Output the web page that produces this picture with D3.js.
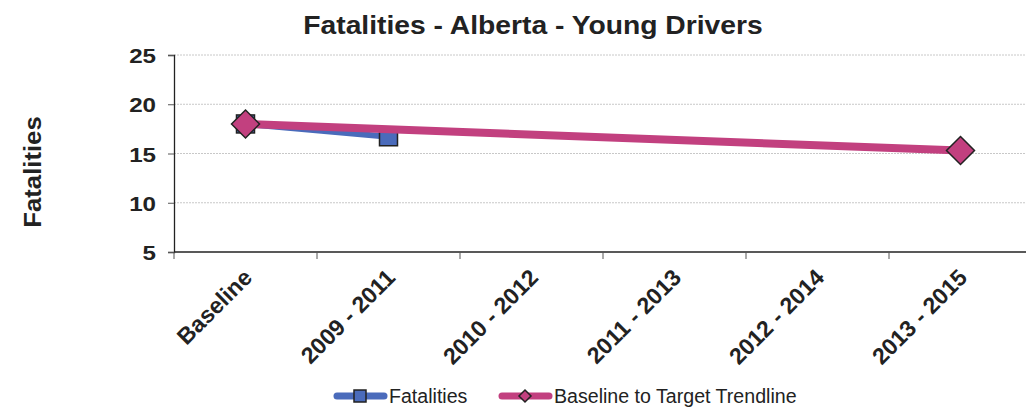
<!DOCTYPE html>
<html lang="en">
<head>
<meta charset="UTF-8">
<title>Fatalities - Alberta - Young Drivers</title>
<style>
body { margin: 0; background: #fff; }
text { font-family: Arial, "Liberation Sans", sans-serif; fill: #222; }
.grid line { stroke: #c8c8c8; stroke-dasharray: 2,1; }
</style>
</head>
<body>
<script src="https://cdn.jsdelivr.net/npm/d3@7"></script>
<script>
var categories = ["Baseline", "2009 - 2011", "2010 - 2012", "2011 - 2013", "2012 - 2014", "2013 - 2015"];
var fatalities = [{ cat: "Baseline", value: 18 }, { cat: "2009 - 2011", value: 16.7 }];
var trendline = [{ cat: "Baseline", value: 18 }, { cat: "2013 - 2015", value: 15.3 }];
var yTicks = [5, 10, 15, 20, 25];

var W = 1026, H = 408;
var margin = { top: 55, left: 174 };
var plotW = 858, plotH = 197;

// the reference text is a little wider than Arial, stretch it
function stretch(sel, k) {
    sel.each(function() {
        var len = this.getComputedTextLength();
        d3.select(this).attr("textLength", len * k).attr("lengthAdjust", "spacingAndGlyphs");
    });
}

var svg = d3.select("body").append("svg").attr("width", W).attr("height", H);

var x = d3.scaleBand().domain(categories).range([0, plotW]);
var y = d3.scaleLinear().domain([5, 25]).range([plotH, 0]);

var g = svg.append("g").attr("transform", "translate(" + margin.left + "," + margin.top + ")");

// gridlines
g.append("g").attr("class", "grid")
    .selectAll("line").data(yTicks.slice(1)).enter().append("line")
    .attr("x1", 0).attr("x2", plotW)
    .attr("y1", function(d) { return y(d); }).attr("y2", function(d) { return y(d); });

// y axis
var yAxis = g.append("g").call(d3.axisLeft(y).tickValues(yTicks).tickSize(6).tickPadding(12));
yAxis.select(".domain").attr("stroke", "#222").attr("stroke-width", 1.3);
yAxis.selectAll("line").attr("stroke", "#555");
yAxis.selectAll("text").style("font-size", "21px").style("font-weight", "bold").attr("dy", "0.36em").call(stretch, 1.15);

// x axis: ticks at category boundaries
var xg = g.append("g").attr("transform", "translate(0," + plotH + ")");
xg.append("line").attr("x1", 0).attr("x2", plotW).attr("stroke", "#222").attr("stroke-width", 1.3);
xg.selectAll(".tk").data(categories).enter().append("line")
    .attr("x1", function(d) { return x(d); }).attr("x2", function(d) { return x(d); })
    .attr("y1", 0).attr("y2", 7).attr("stroke", "#555");
xg.selectAll(".lbl").data(categories).enter().append("text")
    .attr("transform", function(d) { return "translate(" + (x(d) + x.bandwidth() / 2 + 8) + ",27) rotate(-45)"; })
    .attr("text-anchor", "end")
    .style("font-size", "23px").style("font-weight", "bold")
    .text(function(d) { return d; });

var cx = function(d) { return x(d.cat) + x.bandwidth() / 2; };
var line = d3.line().x(cx).y(function(d) { return y(d.value); });

var blue = "#4a6bbb", pink = "#c2407f";

g.append("path").datum(fatalities).attr("d", line)
    .attr("fill", "none").attr("stroke", blue).attr("stroke-width", 6);
g.selectAll(".sq").data(fatalities).enter().append("rect")
    .attr("x", function(d) { return cx(d) - 9; }).attr("y", function(d) { return y(d.value) - 9; })
    .attr("width", 18).attr("height", 18)
    .attr("fill", blue).attr("stroke", "#222").attr("stroke-width", 1.5);

g.append("path").datum(trendline).attr("d", line)
    .attr("fill", "none").attr("stroke", pink).attr("stroke-width", 8);
g.selectAll(".dm").data(trendline).enter().append("path")
    .attr("transform", function(d) { return "translate(" + cx(d) + "," + y(d.value) + ")"; })
    .attr("d", "M0,-14L14,0L0,14L-14,0Z")
    .attr("fill", pink).attr("stroke", "#222").attr("stroke-width", 1.5);

// title
svg.append("text").attr("x", 533).attr("y", 34).attr("text-anchor", "middle")
    .style("font-size", "25px").style("font-weight", "bold")
    .text("Fatalities - Alberta - Young Drivers")
    .call(stretch, 1.13);

// y label
svg.append("text").attr("transform", "translate(41,172) rotate(-90)")
    .attr("text-anchor", "middle")
    .style("font-size", "24px").style("font-weight", "bold")
    .text("Fatalities")
    .call(stretch, 1.07);

// legend
var legend = [
    { name: "Fatalities", color: blue, x: 333, marker: "square" },
    { name: "Baseline to Target Trendline", color: pink, x: 498, marker: "diamond" }
];
var lg = svg.selectAll(".legend").data(legend).enter().append("g")
    .attr("transform", function(d) { return "translate(" + d.x + ",396)"; });
lg.append("line").attr("x1", 4).attr("x2", 51)
    .attr("stroke", function(d) { return d.color; }).attr("stroke-width", 7).attr("stroke-linecap", "round");
lg.append("path")
    .attr("d", function(d) {
        return d.marker === "square" ? "M21,-6h12v12h-12Z" : "M27,-6L33,0L27,6L21,0Z";
    })
    .attr("fill", function(d) { return d.color; })
    .attr("stroke", "#222").attr("stroke-width", 1.5);
lg.append("text").attr("x", 56).attr("y", 7)
    .style("font-size", "19.6px")
    .text(function(d) { return d.name; });
</script>
</body>
</html>
